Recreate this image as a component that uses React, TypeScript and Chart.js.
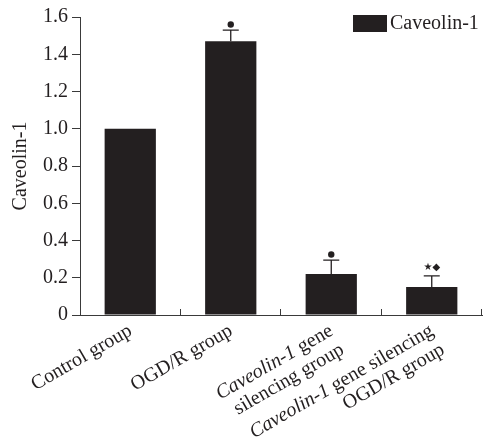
import React, { useEffect, useRef } from "react";
import { Chart, registerables } from "chart.js";

Chart.register(...registerables);

type Seg = { text: string; italic?: boolean };

const categories = [
  "Control group",
  "OGD/R group",
  "Caveolin-1 gene silencing group",
  "Caveolin-1 gene silencing OGD/R group",
];
const categoryLines: Seg[][][] = [
  [[{ text: "Control group" }]],
  [[{ text: "OGD/R group" }]],
  [
    [{ text: "Caveolin-1", italic: true }, { text: " gene" }],
    [{ text: "silencing group" }],
  ],
  [
    [{ text: "Caveolin-1", italic: true }, { text: " gene silencing" }],
    [{ text: "OGD/R group" }],
  ],
];
const values = [1.0, 1.47, 0.22, 0.15];
const errors = [0, 0.06, 0.075, 0.06];
const markers = ["", "●", "●", "★◆"];
const seriesName = "Caveolin-1";
const yTitle = "Caveolin-1";
const yTicks = [0, 0.2, 0.4, 0.6, 0.8, 1.0, 1.2, 1.4, 1.6];

const INK = "#231f20";
const AXIS = "#3a3a3a";
const FONT = "Liberation Serif";

const overlay = {
  id: "overlay",
  afterDraw(chart: any) {
    const ctx = chart.ctx as CanvasRenderingContext2D;
    const xs = chart.scales.x;
    const ys = chart.scales.y;
    const area = chart.chartArea;
    const meta = chart.getDatasetMeta(0);
    ctx.save();

    ctx.strokeStyle = AXIS;
    ctx.lineWidth = 1;
    for (let i = 1; i <= categories.length; i++) {
      const px = Math.round(xs.getPixelForValue(i - 0.5)) - 0.5;
      ctx.beginPath();
      ctx.moveTo(px, area.bottom);
      ctx.lineTo(px, area.bottom - 6);
      ctx.stroke();
    }

    ctx.strokeStyle = INK;
    ctx.fillStyle = INK;
    ctx.lineWidth = 1.3;
    values.forEach((v, i) => {
      const bar = meta.data[i];
      const cx = bar.x;
      const yTop = ys.getPixelForValue(v);
      const yErr = ys.getPixelForValue(v + errors[i]);
      if (errors[i] > 0) {
        ctx.beginPath();
        ctx.moveTo(cx, yTop);
        ctx.lineTo(cx, yErr);
        ctx.moveTo(cx - 8, yErr);
        ctx.lineTo(cx + 8, yErr);
        ctx.stroke();
      }
      const m = markers[i];
      if (m === "●") {
        ctx.beginPath();
        ctx.arc(cx, yErr - 5.5, 3.2, 0, Math.PI * 2);
        ctx.fill();
      } else if (m) {
        ctx.font = "10px DejaVu Sans";
        ctx.textAlign = "center";
        ctx.textBaseline = "middle";
        ctx.fillText(m, cx, yErr - 8);
      }
    });

    ctx.fillStyle = INK;
    ctx.textAlign = "left";
    ctx.textBaseline = "alphabetic";
    categoryLines.forEach((lines, i) => {
      const px = xs.getPixelForValue(i);
      ctx.save();
      ctx.translate(px + 3, area.bottom + 19);
      ctx.rotate(-Math.PI / 6);
      lines.forEach((segs, k) => {
        const fonts = segs.map((s) => (s.italic ? "italic " : "") + "20px " + FONT);
        let total = 0;
        const widths = segs.map((s, j) => {
          ctx.font = fonts[j];
          const w = ctx.measureText(s.text).width;
          total += w;
          return w;
        });
        let x = -total;
        segs.forEach((s, j) => {
          ctx.font = fonts[j];
          ctx.fillText(s.text, x, k * 22);
          x += widths[j];
        });
      });
      ctx.restore();
    });

    const lx = area.right - 129;
    const ly = area.top - 2;
    ctx.fillStyle = INK;
    ctx.fillRect(lx, ly, 34, 17);
    ctx.font = "20px " + FONT;
    ctx.textAlign = "left";
    ctx.textBaseline = "middle";
    ctx.fillText(seriesName, lx + 37, ly + 9);

    ctx.restore();
  },
};

export default function App() {
  const ref = useRef<HTMLCanvasElement>(null);
  useEffect(() => {
    document.body.style.margin = "0";
    const chart = new Chart(ref.current as HTMLCanvasElement, {
      type: "bar",
      data: {
        labels: categories,
        datasets: [
          {
            label: seriesName,
            data: values,
            backgroundColor: INK,
            borderWidth: 0,
            barPercentage: 0.51,
            categoryPercentage: 1,
          },
        ],
      },
      options: {
        animation: false,
        responsive: true,
        maintainAspectRatio: false,
        font: { family: FONT },
        layout: { padding: { top: 17, right: 1, left: 0, bottom: 0 }, autoPadding: false },
        plugins: { legend: { display: false }, tooltip: { enabled: false } },
        scales: {
          x: {
            offset: true,
            grid: { display: false },
            border: { display: true, color: AXIS, width: 1 },
            ticks: { display: false },
            afterFit: (s: any) => {
              s.height = 127;
            },
          },
          y: {
            min: 0,
            max: 1.6,
            afterBuildTicks: (s: any) => {
              s.ticks = yTicks.map((v) => ({ value: v }));
            },
            grid: { drawOnChartArea: false, drawTicks: true, tickLength: 8, color: AXIS },
            border: { display: true, color: AXIS, width: 1 },
            ticks: {
              color: INK,
              padding: 4,
              font: { family: FONT, size: 20 },
              callback: (v: any) => (Number(v) === 0 ? "0" : Number(v).toFixed(1)),
            },
            title: {
              display: true,
              text: yTitle,
              color: INK,
              font: { family: FONT, size: 20 },
              padding: { top: 9, bottom: 0 },
            },
            afterFit: (s: any) => {
              s.width = 80;
            },
          },
        },
      },
      plugins: [overlay],
    });
    return () => chart.destroy();
  }, []);
  return (
    <div style={{ position: "relative", width: 483, height: 442 }}>
      <canvas ref={ref} />
    </div>
  );
}
